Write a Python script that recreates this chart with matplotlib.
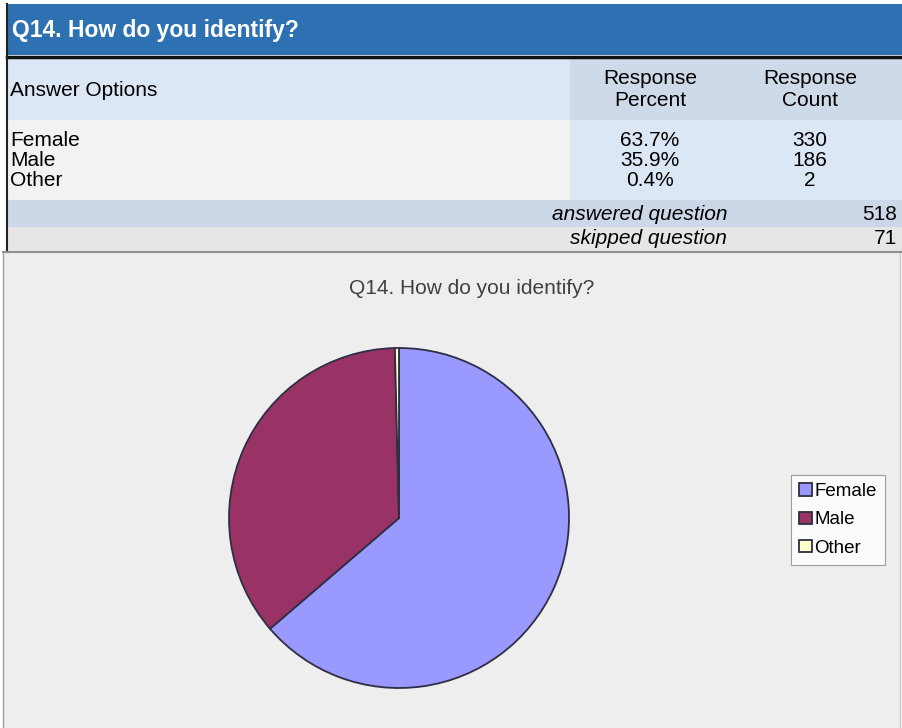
import matplotlib.pyplot as plt
from matplotlib.patches import Rectangle

plt.rcParams['font.family'] = ['Liberation Sans', 'DejaVu Sans']

# data
question = 'Q14. How do you identify?'
options = ['Female', 'Male', 'Other']
percents = [63.7, 35.9, 0.4]
counts = [330, 186, 2]
answered = 518
skipped = 71
colors = ['#9999ff', '#993366', '#ffffcc']

W, H = 902, 728
fig = plt.figure(figsize=(W / 100, H / 100), dpi=100)
fig.patch.set_facecolor('white')

# table drawn in pixel coordinates
tab = fig.add_axes([0, 0, 1, 1])
tab.set_xlim(0, W)
tab.set_ylim(H, 0)
tab.axis('off')

fs = 15


def box(x0, y0, x1, y1, color, **kw):
    tab.add_patch(Rectangle((x0, y0), x1 - x0, y1 - y0, facecolor=color, edgecolor='none', **kw))


# chart area background
box(3, 252, 900, 728, '#eeeeee')
tab.plot([3, 3], [252, 728], color='#a0a0a0', lw=1)
tab.plot([900, 900], [252, 728], color='#c8c8c8', lw=1)

# header
box(7, 4, W, 55, '#2e71b3')
tab.plot([7, W], [56.5, 56.5], color='#111111', lw=2.5)
tab.text(12, 30, question, color='white', fontsize=16.5, fontweight='bold', va='center')

# column header row
box(7, 58, 570, 120, '#dce7f6')
box(570, 58, W, 120, '#cfdae8')
tab.text(10, 90, 'Answer Options', fontsize=fs, va='center')
tab.text(650, 89, 'Response\nPercent', fontsize=fs, va='center', ha='center', linespacing=1.2)
tab.text(810, 89, 'Response\nCount', fontsize=fs, va='center', ha='center', linespacing=1.2)

# data rows
box(7, 120, 570, 200, '#f2f2f2')
box(570, 120, W, 200, '#dce7f6')
for i, (opt, p, c) in enumerate(zip(options, percents, counts)):
    y = 141 + i * 20
    tab.text(10, y, opt, fontsize=fs, va='center')
    tab.text(650, y, f'{p:.1f}%', fontsize=fs, va='center', ha='center')
    tab.text(810, y, str(c), fontsize=fs, va='center', ha='center')

# summary rows
box(7, 200, W, 227, '#ccd8e8')
box(7, 227, W, 251, '#e6e6e6')
tab.text(727, 214, 'answered question', fontsize=fs, style='italic', va='center', ha='right')
tab.text(897, 214, str(answered), fontsize=fs, va='center', ha='right')
tab.text(727, 239, 'skipped question', fontsize=fs, style='italic', va='center', ha='right')
tab.text(897, 239, str(skipped), fontsize=fs, va='center', ha='right')
tab.plot([7, 7], [4, 252], color='#222222', lw=1.5)
tab.plot([3, W], [252, 252], color='#909090', lw=1.5)

# chart title
tab.text(472, 289, question, fontsize=15, color='#404040', va='center', ha='center')

# pie
cx, cy, r = 399, 518, 170
ax = fig.add_axes([(cx - r) / W, (H - cy - r) / H, 2 * r / W, 2 * r / H])
ax.set_facecolor('none')
wedges, _ = ax.pie(counts, colors=colors, startangle=90, counterclock=False,
                   wedgeprops=dict(edgecolor='#2e2e44', linewidth=1.3))
ax.set_xlim(-1, 1)
ax.set_ylim(-1, 1)

leg = fig.legend(wedges, options, loc='center', bbox_to_anchor=(838 / W, 1 - 520 / H),
                 fontsize=13.5, frameon=True, fancybox=False, edgecolor='#888888',
                 handlelength=0.65, handleheight=0.65, handletextpad=0.15,
                 labelspacing=0.6, borderpad=0.45, borderaxespad=0)
leg.get_frame().set_linewidth(0.8)

fig.savefig('out.png', dpi=100)
